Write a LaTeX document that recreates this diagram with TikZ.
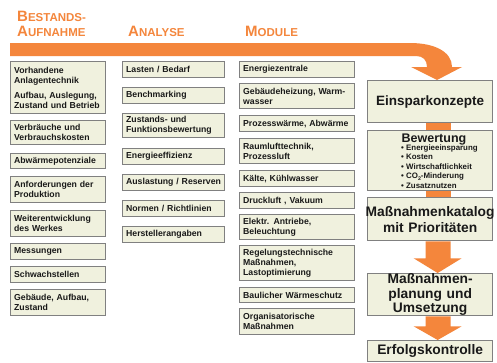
\documentclass[tikz,border=0pt]{standalone}
\usepackage{fontspec}
\setmainfont{Liberation Sans}
\usetikzlibrary{calc}
\definecolor{orng}{RGB}{244,134,60}
\definecolor{boxfill}{RGB}{240,241,222}
\definecolor{boxline}{RGB}{128,128,128}
\definecolor{txt}{RGB}{25,25,25}
\newcommand\bigsc[2]{{\fontsize{15}{15}\selectfont #1}{\fontsize{11.5}{12}\selectfont #2}}
\begin{document}
\begin{tikzpicture}[x=1pt,y=-1pt,
  bx/.style={draw=boxline, fill=boxfill, line width=1.3pt, inner xsep=3.5pt, inner ysep=0pt,
    anchor=north west, align=left, text=txt,
    font=\bfseries\fontsize{8.7}{10}\selectfont},
  colA/.style={bx, text width=88pt},
  colB/.style={bx, text width=95pt},
  colC/.style={bx, text width=108pt},
  bigbox/.style={draw=boxline, fill=boxfill, line width=1.3pt, inner xsep=0pt, inner ysep=0pt,
    anchor=north west, align=center, text width=125pt, text=txt},
  head/.style={anchor=base west, inner sep=0pt, text=orng, font=\bfseries},
  arr/.style={fill=orng}]
\useasboundingbox (0,0) rectangle (497,362);
\fill[white] (0,0) rectangle (497,362);

% headers
\node[head] (h1) at (17,21.5) {\bigsc{B}{ESTANDS-}};
\node[head] (h2) at (17,36) {\bigsc{A}{UFNAHME}};
\node[head] (h3) at (128,36) {\bigsc{A}{NALYSE}};
\node[head] (h4) at (245,36) {\bigsc{M}{ODULE}};

% big orange arrow
\fill[arr] (10,43) -- (410,43) .. controls (435,43) and (452,52) .. (452,67)
  -- (462,67) -- (437,80) -- (411,67) -- (427,67)
  .. controls (427,60) and (423,56) .. (416,56) -- (10,56) -- cycle;

% column 1
\node[colA, minimum height=52pt] (a1) at (10,61) {Vorhandene\\Anlagentechnik\\[5pt]Aufbau, Auslegung,\\Zustand und Betrieb};
\node[colA, minimum height=24pt] (a2) at (10,120) {Verbräuche und\\Verbrauchskosten};
\node[colA, minimum height=15pt] (a3) at (10,153) {Abwärmepotenziale};
\node[colA, minimum height=26pt] (a4) at (10,176) {Anforderungen der\\Produktion};
\node[colA, minimum height=26pt] (a5) at (10,210) {Weiterentwicklung\\des Werkes};
\node[colA, minimum height=16pt] (a6) at (10,243) {Messungen};
\node[colA, minimum height=16pt] (a7) at (10,266) {Schwachstellen};
\node[colA, minimum height=26pt] (a8) at (10,289) {Gebäude, Aufbau,\\Zustand};

% column 2
\node[colB, minimum height=16pt] (b1) at (122,61) {Lasten / Bedarf};
\node[colB, minimum height=16pt] (b2) at (122,87) {Benchmarking};
\node[colB, minimum height=24pt] (b3) at (122,113) {Zustands- und\\Funktionsbewertung};
\node[colB, minimum height=16pt] (b4) at (122,148) {Energieeffizienz};
\node[colB, minimum height=16pt] (b5) at (122,174) {Auslastung / Reserven};
\node[colB, minimum height=16pt] (b6) at (122,200) {Normen / Richtlinien};
\node[colB, minimum height=16pt] (b7) at (122,226) {Herstellerangaben};

% column 3
\node[colC, minimum height=16pt] (c1) at (239,61) {Energiezentrale};
\node[colC, minimum height=25pt] (c2) at (239,83) {Gebäudeheizung, Warm-\\wasser};
\node[colC, minimum height=16pt] (c3) at (239,115) {Prozesswärme, Abwärme};
\node[colC, minimum height=25pt] (c4) at (239,138) {Raumlufttechnik,\\Prozessluft};
\node[colC, minimum height=16pt] (c5) at (239,170) {Kälte, Kühlwasser};
\node[colC, minimum height=16pt] (c6) at (239,192) {Druckluft , Vakuum};
\node[colC, minimum height=25pt] (c7) at (239,214) {Elektr. Antriebe,\\Beleuchtung};
\node[colC, minimum height=35pt] (c8) at (239,245) {Regelungstechnische\\Maßnahmen,\\Lastoptimierung};
\node[colC, minimum height=15pt] (c9) at (239,287) {Baulicher Wärmeschutz};
\node[colC, minimum height=26pt] (c10) at (239,308) {Organisatorische\\Maßnahmen};

% column 4
\node[bigbox, minimum height=42pt, font=\bfseries\fontsize{13.5}{15}\selectfont] (e1) at (367,80) {Einsparkonzepte};
\node[bigbox, minimum height=60pt] (e2) at (367,130) {};
\node[anchor=base, inner sep=0pt, text=txt, font=\bfseries\fontsize{12.5}{13}\selectfont] (e2t) at (434,142) {Bewertung};
\node[anchor=north west, inner sep=0pt, align=left, text=txt, font=\bfseries\fontsize{7.9}{9.5}\selectfont] (e2l) at (401,144.5)
  {• Energieeinsparung\\• Kosten\\• Wirtschaftlichkeit\\• CO\raisebox{-1.2pt}{\fontsize{5.3}{5}\selectfont 2}-Minderung\\• Zusatznutzen};
\node[bigbox, minimum height=43pt, font=\bfseries\fontsize{13.8}{16}\selectfont] (e3) at (367,197) {\makebox[125pt]{Maßnahmenkatalog}\\mit Prioritäten};
\node[bigbox, minimum height=42pt, font=\bfseries\fontsize{13.8}{14.5}\selectfont] (e4) at (367,273) {Maßnahmen-\\planung und\\Umsetzung};
\node[bigbox, minimum height=21pt, font=\bfseries\fontsize{13.8}{15}\selectfont] (e5) at (367,340) {Erfolgskontrolle};

% orange connectors
\fill[arr] ($(e1.south)+(-4.5,0)$) rectangle ($(e2.north)+(20.5,0)$);
\fill[arr] ($(e2.south)+(-4.5,0)$) rectangle ($(e3.north)+(20.5,0)$);
\fill[arr] ($(e3.south)+(-4.5,0)$) -- ($(e3.south)+(-4.5,17)$) -- ($(e3.south)+(-16.5,17)$)
  -- ($(e4.north)+(7.5,0)$) -- ($(e3.south)+(31.5,17)$) -- ($(e3.south)+(20.5,17)$)
  -- ($(e3.south)+(20.5,0)$) -- cycle;
\fill[arr] ($(e4.south)+(-4.5,0)$) -- ($(e4.south)+(-4.5,10)$) -- ($(e4.south)+(-16.5,10)$)
  -- ($(e5.north)+(7.5,0)$) -- ($(e4.south)+(31.5,10)$) -- ($(e4.south)+(20.5,10)$)
  -- ($(e4.south)+(20.5,0)$) -- cycle;
\end{tikzpicture}
\end{document}
